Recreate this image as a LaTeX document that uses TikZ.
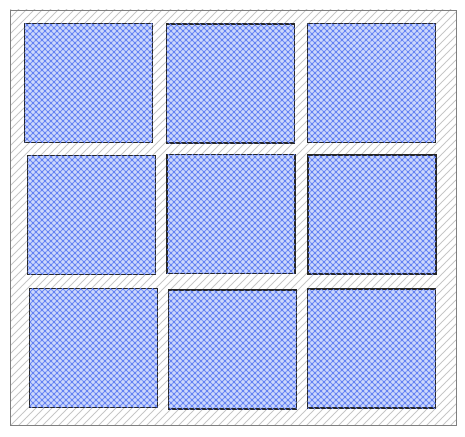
\documentclass[tikz,border=0pt]{standalone}
\usepackage{tikz}
\usetikzlibrary{patterns.meta}

\definecolor{hatchblue}{RGB}{100,130,242}
\definecolor{paleblue}{RGB}{205,216,252}

\begin{document}
\begin{tikzpicture}[
x=1pt, y=-1pt,
framebox/.style={
rectangle,
draw=black!50,
line width=0.9pt,
inner sep=0pt,
minimum width=446pt,
minimum height=415pt,
pattern={Lines[angle=45, distance=5.657pt, line width=0.8pt]},
pattern color=black!22
},
cellbox/.style={
rectangle,
draw=black!85,
line width=1.1pt,
inner sep=0pt,
minimum width=128pt,
minimum height=119pt,
preaction={fill=paleblue},
pattern={Lines[angle=45, distance=4.243pt, line width=0.8pt]},
pattern color=hatchblue,
postaction={pattern={Lines[angle=-45, distance=4.243pt, line width=0.8pt]}, pattern color=hatchblue}
}
]

\useasboundingbox (0,0) rectangle (465,436);

\node[framebox] (frame) at (233,217.5) {};

% top row
\node[cellbox] (c11) at (88.5,83) {};
\node[cellbox] (c12) at (230.5,83.5) {};
\node[cellbox] (c13) at (371.5,83) {};

% middle row
\node[cellbox] (c21) at (91.5,215) {};
\node[cellbox] (c22) at (231,214) {};
\node[cellbox] (c23) at (372,214.5) {};

% bottom row
\node[cellbox] (c31) at (93.5,348) {};
\node[cellbox] (c32) at (232.5,349.5) {};
\node[cellbox] (c33) at (371.5,348.5) {};

\end{tikzpicture}
\end{document}
